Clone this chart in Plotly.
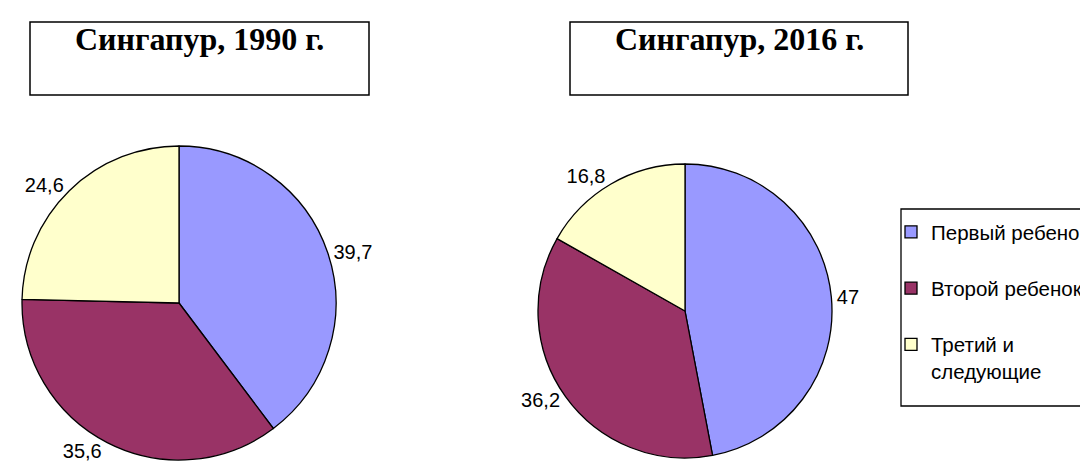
import plotly.graph_objects as go

categories = ["Первый ребенок", "Второй ребенок", "Третий и<br>следующие"]
values_1990 = [39.7, 35.6, 24.6]
values_2016 = [47, 36.2, 16.8]
titles = ["Сингапур, 1990 г.", "Сингапур, 2016 г."]
colors = ["#9999FF", "#993366", "#FFFFCC"]

W, H = 1088, 468
legend_labels = [c + "<br> " if i < 2 else c for i, c in enumerate(categories)]

def px_dom(x0, x1, y0, y1):
    return dict(x=[x0 / W, x1 / W], y=[1 - y1 / H, 1 - y0 / H])

common = dict(
    labels=legend_labels,
    sort=False,
    direction="clockwise",
    rotation=0,
    textinfo="value",
    textposition="outside",
    outsidetextfont=dict(family="Liberation Sans, Arial", size=20, color="black"),
    marker=dict(colors=colors, line=dict(color="black", width=1.3)),
    hoverinfo="label+value",
)

fig = go.Figure()
fig.add_trace(go.Pie(values=values_1990, domain=px_dom(14, 328, 138, 452), **common))
fig.add_trace(go.Pie(values=values_2016, domain=px_dom(530, 824, 156, 450), showlegend=False, **common))

boxes = [(22, 361), (562, 900)]
shapes = []
annotations = []
for (x0, x1), t in zip(boxes, titles):
    shapes.append(dict(type="rect", xref="paper", yref="paper",
                       x0=x0 / W, x1=x1 / W, y0=1 - 87 / H, y1=1 - 14 / H,
                       line=dict(color="black", width=1.5), fillcolor="white", layer="below"))
    annotations.append(dict(text="<b>" + t + "</b>", xref="paper", yref="paper",
                            x=(x0 + x1) / 2 / W, y=1 - 31 / H, xanchor="center", yanchor="middle",
                            showarrow=False,
                            font=dict(family="Liberation Serif, Times New Roman", size=32, color="black")))

# legend frame
shapes.append(dict(type="rect", xref="paper", yref="paper",
                   x0=893 / W, x1=1.05, y0=1 - 398 / H, y1=1 - 201 / H,
                   line=dict(color="black", width=1.3), fillcolor="white", layer="below"))

fig.update_layout(
    width=W, height=H,
    margin=dict(l=0, r=0, t=0, b=0),
    paper_bgcolor="white", plot_bgcolor="white",
    separators=", ",
    shapes=shapes,
    annotations=annotations,
    legend=dict(x=883 / W, y=1 - 204 / H, xanchor="left", yanchor="top",
                borderwidth=0, bgcolor="rgba(0,0,0,0)",
                valign="top", traceorder="normal",
                font=dict(family="Liberation Sans, Arial", size=20.5, color="black")),
)

fig.write_html("out.html")
